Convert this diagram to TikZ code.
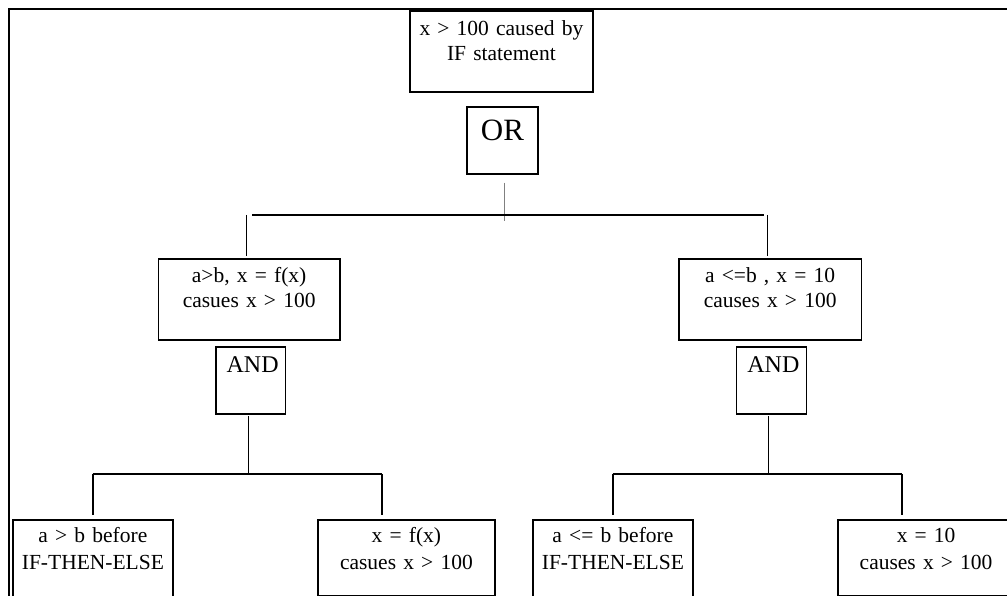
\documentclass[tikz,border=0pt]{standalone}
\usepackage{fontspec}
\setmainfont{Liberation Serif}
\usetikzlibrary{calc}

\tikzset{
  frameline/.style={line width=2.8pt},
  link/.style={line width=1.8pt},
  orlink/.style={line width=1.2pt, draw=gray},
  boxnode/.style={draw, line width=1.8pt, rectangle, inner sep=0pt,
    align=center, anchor=north west,
    font=\fontsize{21.5}{25}\selectfont},
  % width, height, first-baseline offset from the top
  boxsize/.style n args={3}{minimum width=#1pt, text width=#1pt,
    minimum height=#2pt, text height=#3pt, text depth=#2pt-#3pt},
  gatefont/.style={font=\fontsize{#1}{#1}\selectfont},
  leaffont/.style={font=\fontsize{21.5}{26.5}\selectfont},
}

\begin{document}
\begin{tikzpicture}[x=1pt, y=-1pt]
\useasboundingbox (0,0) rectangle (1007,596);
\clip (0,0) rectangle (1007,596);

% outer frame
\draw[frameline] (9,610) -- (9,9) -- (1020,9);

% top event and OR gate
\node[boxnode, boxsize={183}{81}{25}] (top) at (409,10)
  {x > 100 caused by\\IF statement};
\node[boxnode, boxsize={71}{67}{33.3}, gatefont=31] (or) at (466,106) {OR};

% intermediate events
\node[boxnode, boxsize={181.5}{81}{24}] (midL) at (157.5,258)
  {a>b, x = f(x)\\casues x > 100};
\node[boxnode, boxsize={182.5}{81}{24}] (midR) at (678,258)
  {a <=b , x = 10\\causes x > 100};

% AND gates
\node[boxnode, boxsize={69.5}{67}{26}, gatefont=24] (andL) at (215,346) {\hspace{4pt}AND};
\node[boxnode, boxsize={70}{67}{26}, gatefont=24] (andR) at (735.5,346) {\hspace{4pt}AND};

% basic events
\node[boxnode, leaffont, boxsize={160.6}{90}{22.7}] (botL1) at (11.7,519)
  {a > b before\\IF-THEN-ELSE};
\node[boxnode, leaffont, boxsize={177.6}{76}{22.7}] (botL2) at (316.7,519)
  {x = f(x)\\casues x > 100};
\node[boxnode, leaffont, boxsize={160.6}{90}{22.7}] (botR1) at (531.7,519)
  {a <= b before\\IF-THEN-ELSE};
\node[boxnode, leaffont, boxsize={177}{76}{22.7}] (botR2) at (836.7,519)
  {x = 10\\causes x > 100};

% OR branch
\coordinate (orstem) at (504.5,182.7);
\coordinate (orend) at (504.5,220.7);
\draw[orlink] (orstem) -- (orend);
\coordinate (barL) at (252,215);
\coordinate (barR) at (763.5,215);
\draw[link] (barL) -- (barR);
\coordinate (dropL) at (246.5,215);
\coordinate (dropR) at (767.5,215);
\draw[link] (dropL) -- ($(dropL |- midL.north)+(0,-2)$);
\draw[link] (dropR) -- ($(dropR |- midR.north)+(0,-2)$);

% left AND branch
\coordinate (andLstem) at (248.5,416);
\coordinate (forkL) at (248.5,474);
\draw[link] (andLstem) -- (forkL);
\coordinate (forkL1) at (92.7,474);
\coordinate (forkL2) at (381.7,474);
\draw[link] (forkL1) -- (forkL2);
\draw[link] (forkL1) -- ($(forkL1 |- botL1.north)+(0,-4)$);
\draw[link] (forkL2) -- ($(forkL2 |- botL2.north)+(0,-4)$);

% right AND branch
\coordinate (andRstem) at (768.5,416);
\coordinate (forkR) at (768.5,474);
\draw[link] (andRstem) -- (forkR);
\coordinate (forkR1) at (612.7,474);
\coordinate (forkR2) at (901.7,474);
\draw[link] (forkR1) -- (forkR2);
\draw[link] (forkR1) -- ($(forkR1 |- botR1.north)+(0,-4)$);
\draw[link] (forkR2) -- ($(forkR2 |- botR2.north)+(0,-4)$);
\end{tikzpicture}
\end{document}
